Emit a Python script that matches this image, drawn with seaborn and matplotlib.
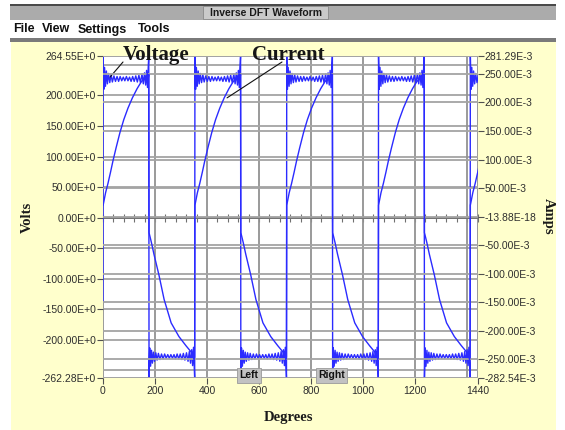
import numpy as np
import pandas as pd
import matplotlib
matplotlib.use("Agg")
import matplotlib.pyplot as plt
from matplotlib.patches import Rectangle
from matplotlib.ticker import MultipleLocator
import seaborn as sns

# ---- waveform data: one period, degrees measured from the rising edge ----
cycle_deg_v = [0.5, 3, 6, 9.5, 13, 17, 21, 26, 31, 36,
               42, 48, 54, 60, 66, 72, 78, 84, 90, 96,
               102, 108, 114, 120, 126, 132, 138, 144, 150, 155,
               159.5, 164, 167.5, 171, 174, 176,
               177, 179.5, 183, 186.5, 190, 194, 198, 203, 208, 213,
               219, 225, 231, 237, 243, 249, 255, 261, 267, 273,
               279, 285, 291, 297, 303, 309, 315, 321, 327, 332,
               336.5, 341, 344.5, 348, 351, 352.5]
cycle_volts = [264.55, 210, 246, 215, 240, 219, 236, 221, 234, 222,
               232, 223, 231, 223, 231, 224, 230, 224, 231, 224,
               230, 223, 231, 223, 232, 222, 233, 221, 235, 219,
               237, 217, 241, 213, 247, 264.55,
               -262.28, -213, -243, -217, -238, -220, -235, -221, -233, -222,
               -232, -223, -231, -223, -230, -224, -230, -224, -230, -224,
               -231, -223, -231, -223, -232, -222, -233, -221, -235, -219,
               -238, -216, -242, -212, -247, -262.28]

cycle_deg_i = [0.5, 10, 19, 29, 38, 50, 65, 80, 96, 113, 131, 147, 160, 166, 170, 173, 176,
               177, 186, 196, 215, 235, 262, 292, 319, 339, 344, 347, 350, 352.5]
cycle_amps = [0.020, 0.042, 0.058, 0.078, 0.097, 0.120, 0.147, 0.170, 0.190, 0.208, 0.224,
              0.236, 0.243, 0.237, 0.251, 0.239, 0.249,
              -0.028, -0.045, -0.066, -0.102, -0.145, -0.186, -0.210, -0.226, -0.237,
              -0.244, -0.236, -0.250, -0.246]

# rising edges of the voltage square wave (degrees)
cycle_starts = [0, 353, 706, 1059, 1412]
lead_deg = [0.0]
lead_volts = [-138.0]

# ---- axis ticks ----
volt_ticks = [-262.28, -200, -150, -100, -50, 0, 50, 100, 150, 200, 264.55]
volt_tick_labels = ["-262.28E+0", "-200.00E+0", "-150.00E+0", "-100.00E+0", "-50.00E+0",
                    "0.00E+0", "50.00E+0", "100.00E+0", "150.00E+0", "200.00E+0", "264.55E+0"]
amp_ticks = [-0.28254, -0.25, -0.2, -0.15, -0.1, -0.05, 0, 0.05, 0.1, 0.15, 0.2, 0.25, 0.28129]
amp_tick_labels = ["-282.54E-3", "-250.00E-3", "-200.00E-3", "-150.00E-3", "-100.00E-3",
                   "-50.00E-3", "-13.88E-18", "50.00E-3", "100.00E-3", "150.00E-3",
                   "200.00E-3", "250.00E-3", "281.29E-3"]
deg_ticks = [0, 200, 400, 600, 800, 1000, 1200, 1440]
deg_tick_labels = ["0", "200", "400", "600", "800", "1000", "1200", "1440"]

volt_df = pd.DataFrame({
    "deg": lead_deg + [s + t for s in cycle_starts for t in cycle_deg_v],
    "volts": lead_volts + cycle_volts * len(cycle_starts),
})
amp_df = pd.DataFrame({
    "deg": [s + t for s in cycle_starts for t in cycle_deg_i],
    "amps": cycle_amps * len(cycle_starts),
})

sns.set_style("white")
plt.rcParams["font.family"] = ["Liberation Sans", "DejaVu Sans"]

W, H = 565, 430
fig = plt.figure(figsize=(W / 100, H / 100), dpi=100, facecolor="white")


def fx(x):
    return x / W


def fy(y):
    return 1 - y / H


def rect(x0, y0, x1, y1, fc, ec="none", lw=0, z=-5):
    fig.add_artist(Rectangle((fx(x0), fy(y1)), (x1 - x0) / W, (y1 - y0) / H,
                             transform=fig.transFigure, fc=fc, ec=ec, lw=lw, zorder=z))


# window title bar and menu
rect(10, 4, 556, 20, "#ABABAB")
rect(10, 4, 556, 5.5, "#4A4A4A")
rect(203, 6, 328, 19, "#CACACA", ec="#8A8A8A", lw=0.6, z=-4)
fig.text(fx(265.5), fy(12.8), "Inverse DFT Waveform", ha="center", va="center",
         fontsize=7.5, fontweight="bold", color="#1A1A1A")
for word, x in [("File", 13), ("View", 42), ("Settings", 78), ("Tools", 138)]:
    fig.text(fx(x), fy(29.5), word, ha="left", va="center", fontsize=9,
             fontweight="bold", color="#111111")
rect(10, 37.5, 556, 41.5, "#7A7A7A")
rect(11, 41.5, 556, 430, "#FFFFCC")

# plot area
ax = fig.add_axes([103 / W, fy(378), (477.5 - 103) / W, (378 - 56) / H])
ax.set_facecolor("white")
ax2 = ax.twinx()

line_color = "#2B2BFF"
sns.lineplot(data=volt_df, x="deg", y="volts", ax=ax, color=line_color, lw=1.0,
             sort=False, estimator=None, legend=False)
sns.lineplot(data=amp_df, x="deg", y="amps", ax=ax2, color=line_color, lw=1.0,
             sort=False, estimator=None, legend=False)

ax.set_xlim(0, 1440)
ax.set_ylim(-262.28, 264.55)
ax2.set_ylim(-0.28254, 0.28129)

grid_kw = dict(color="#A4A4A4", lw=1.3)
ax.set_axisbelow(True)
ax2.set_axisbelow(True)
ax.set_xticks(deg_ticks, deg_tick_labels)
ax.set_yticks(volt_ticks, volt_tick_labels)
ax2.set_yticks(amp_ticks, amp_tick_labels)
ax.grid(True, axis="y", **grid_kw)
ax.grid(True, axis="x", color="#929292", lw=1.3)
ax2.grid(True, axis="y", **grid_kw)
for v in (250, -250):
    ax.axhline(v, zorder=0.6, **grid_kw)
ax.axvline(1400, color="#929292", lw=1.3, zorder=0.6)
ax.axhline(0, color="#6E6E6E", lw=1.3, zorder=0.7)

for a in (ax, ax2):
    for s in a.spines.values():
        s.set_visible(False)
    a.set_xlabel("")
    a.set_ylabel("")

tick_kw = dict(length=4, width=0.8, color="#505050", labelsize=7.5, labelcolor="#2E2E2E")
ax.tick_params(axis="y", left=True, pad=1, **tick_kw)
ax.tick_params(axis="x", bottom=True, pad=2, **tick_kw)
ax2.tick_params(axis="y", right=True, pad=1, **tick_kw)

# small tick marks along the zero line
zero_axis = ax.secondary_xaxis(262.28 / 526.83)
zero_axis.set_xticks([])
zero_axis.xaxis.set_minor_locator(MultipleLocator(40))
zero_axis.tick_params(which="minor", direction="inout", length=6, width=0.8, color="#707070")
for s in zero_axis.spines.values():
    s.set_visible(False)

# axis titles
serif = ["Liberation Serif", "DejaVu Serif"]
fig.text(fx(27), fy(217), "Volts", rotation=90, ha="center", va="center",
         fontsize=10.5, fontweight="bold", family=serif, color="#1A1A1A")
fig.text(fx(548), fy(216), "Amps", rotation=270, ha="center", va="center",
         fontsize=10.5, fontweight="bold", family=serif, color="#1A1A1A")
fig.text(fx(288), fy(417), "Degrees", ha="center", va="center",
         fontsize=10.5, fontweight="bold", family=serif, color="#1A1A1A")

# callouts
fig.text(fx(156), fy(55), "Voltage", ha="center", va="center", fontsize=15,
         fontweight="bold", family=serif, color="#161616")
fig.text(fx(288), fy(55), "Current", ha="center", va="center", fontsize=15,
         fontweight="bold", family=serif, color="#161616")
leader = dict(arrowstyle="-", lw=0.8, color="#111111", shrinkA=0, shrinkB=0)
ax.annotate("", xy=(27, 230), xytext=(123, H - 62), textcoords="figure pixels",
            arrowprops=leader, annotation_clip=False)
ax2.annotate("", xy=(477, 0.208), xytext=(282, H - 62), textcoords="figure pixels",
             arrowprops=leader, annotation_clip=False)

# cursor markers
marker_box = dict(boxstyle="square,pad=0.2", fc="#C2C2C2", ec="#9A9A9A", lw=0.6)
fig.text(fx(249), fy(375.5), "Left", ha="center", va="center", fontsize=7.5,
         fontweight="bold", color="#111111", bbox=marker_box)
fig.text(fx(331.5), fy(375.5), "Right", ha="center", va="center", fontsize=7.5,
         fontweight="bold", color="#111111", bbox=marker_box)

fig.savefig("out.png", dpi=100, facecolor="white")
